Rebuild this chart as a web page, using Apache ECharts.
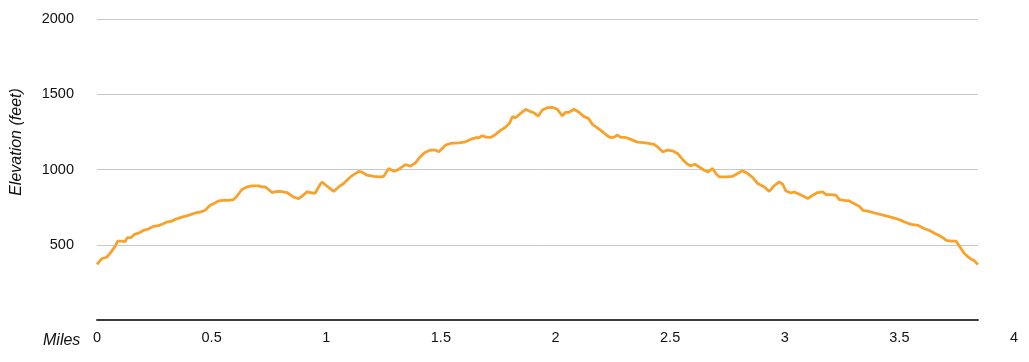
<!DOCTYPE html>
<html>
<head>
<meta charset="utf-8">
<script src="https://cdn.jsdelivr.net/npm/echarts@6/dist/echarts.min.js"></script>
<style>html,body{margin:0;padding:0;background:#fff}#c{width:1029px;height:362px}</style>
</head>
<body>
<div id="c"></div>
<script>
const miles = [0,0.0205,0.0424,0.0611,0.0786,0.0904,0.1078,0.1222,0.1323,0.1484,0.1628,0.1803,0.2021,0.2239,0.2457,0.2676,0.2894,0.3042,0.3261,0.3479,0.3697,0.3985,0.4278,0.4496,0.4714,0.4932,0.5076,0.5295,0.5513,0.5731,0.5949,0.6098,0.6316,0.6534,0.6752,0.7041,0.7189,0.7333,0.7477,0.7625,0.7769,
0.7988,0.8280,0.8568,0.8787,0.8935,0.9153,0.9372,0.9515,0.9703,0.9808,1.0026,1.0314,1.0532,1.0751,1.1043,1.1261,1.1405,1.1554,1.1772,1.2060,1.2353,1.2497,1.2715,1.2933,1.3082,1.3300,1.3444,1.3662,1.3880,1.4068,1.4273,1.4535,1.4753,1.4898,1.5046,1.5190,1.5408,
1.5771,1.6063,1.6281,1.6499,1.6643,1.6792,1.6966,1.7154,1.7372,1.7590,1.7809,1.7983,1.8101,1.8245,1.8463,1.8682,1.8900,1.9044,1.9236,1.9411,1.9629,1.9847,2.0065,2.0284,2.0428,2.0572,2.0790,2.1008,2.1226,2.1418,2.1593,2.1811,2.2029,2.2248,2.2392,2.2536,2.2684,2.2829,2.3047,
2.3265,2.3558,2.3920,2.4282,2.4430,2.4649,2.4867,2.5085,2.5303,2.5522,2.5740,2.5884,2.6059,2.6246,2.6464,2.6639,2.6831,2.6975,2.7119,2.7412,2.7704,2.7922,2.8140,2.8359,2.8577,2.8795,2.9083,2.9302,2.9494,2.9738,2.9887,3.0031,3.0249,3.0393,3.0611,
3.0978,3.1196,3.1414,3.1632,3.1777,3.1995,3.2213,3.2357,3.2575,3.2794,3.3012,3.3230,3.3379,3.3597,3.3885,3.4177,3.4470,3.4758,3.4976,3.5194,3.5487,3.5779,3.5997,3.6285,3.6503,3.6722,3.6870,3.7014,3.7233,3.7451,3.7595,3.7813,3.8032,3.8224,3.8399];
const elevation = [369,407,417,451,489,524,524,520,547,547,569,577,595,604,622,627,640,651,657,673,684,695,711,717,729,762,773,791,795,795,800,822,867,884,891,891,884,884,867,847,853,
855,847,817,807,822,851,844,844,895,917,889,855,884,907,951,973,987,982,962,955,951,955,1007,989,995,1017,1033,1022,1044,1080,1111,1129,1129,1117,1140,1162,1173,
1177,1184,1200,1211,1211,1224,1215,1213,1233,1260,1282,1307,1351,1344,1373,1400,1384,1377,1355,1395,1411,1413,1400,1357,1380,1380,1400,1380,1351,1340,1300,1277,1251,1224,1211,1215,1229,1213,1213,
1200,1182,1177,1167,1151,1117,1129,1124,1107,1067,1035,1024,1035,1017,995,984,1007,973,951,951,955,973,991,973,947,907,884,855,889,917,902,857,844,851,835,
807,829,847,851,833,833,829,800,795,791,773,755,729,724,711,700,689,677,667,651,635,629,611,595,577,560,547,529,524,524,489,440,411,395,369];
const yTicks = [0,500,1000,1500,2000];
const xTicks = [0,0.5,1,1.5,2,2.5,3,3.5,4];

const FONT = '"Liberation Sans", Arial, Helvetica, sans-serif';
const chart = echarts.init(document.getElementById('c'), null, {renderer:'canvas'});
chart.setOption({
  animation: false,
  backgroundColor: '#fff',
  grid: [
    {left: 97, right: 51, top: 19, bottom: 42},
    {left: 97, right: 15, top: 19, bottom: 42}
  ],
  xAxis: [
    {type:'value', gridIndex:0, min:0, max: miles[miles.length-1], interval:0.5,
     axisLine:{show:true, lineStyle:{color:'#3a3a3a', width:2}}, axisTick:{show:false},
     axisLabel:{show:false}, splitLine:{show:false}},
    {type:'value', gridIndex:1, min:xTicks[0], max:xTicks[xTicks.length-1], interval:0.5,
     axisLine:{show:false}, axisTick:{show:false}, splitLine:{show:false},
     axisLabel:{show:true, margin:10, color:'#111', fontSize:14.5, fontFamily:FONT,
       formatter: v => String(v)}}
  ],
  yAxis: [
    {type:'value', gridIndex:0, min:yTicks[0], max:yTicks[yTicks.length-1], interval:500,
     axisLine:{show:false}, axisTick:{show:false},
     axisLabel:{color:'#111', fontSize:14.5, fontFamily:FONT, margin:23, showMinLabel:false,
       formatter: v => v === 0 ? '' : String(v)},
     splitLine:{show:true, lineStyle:{color:'#c8c8c8', width:1}}},
    {type:'value', gridIndex:1, min:0, max:2000, show:false}
  ],
  title: [
    {text:'Miles', left:38, top:328, textStyle:{fontSize:16, fontStyle:'italic', fontWeight:'normal', color:'#111', fontFamily:FONT}}
  ],
  graphic: [
    {type:'text', x:17, y:142, rotation: Math.PI/2,
     style:{text:'Elevation (feet)', x:0, y:0, textAlign:'center', textVerticalAlign:'middle',
       font:'italic 16px ' + FONT, fill:'#111'}}
  ],
  series: [
    {type:'line', xAxisIndex:0, yAxisIndex:0, showSymbol:false, symbol:'none',
     lineStyle:{color:'#f9a22b', width:2.8}, smooth:false,
     data: miles.map((m,i) => [m, elevation[i]])}
  ]
});
</script>
</body>
</html>
